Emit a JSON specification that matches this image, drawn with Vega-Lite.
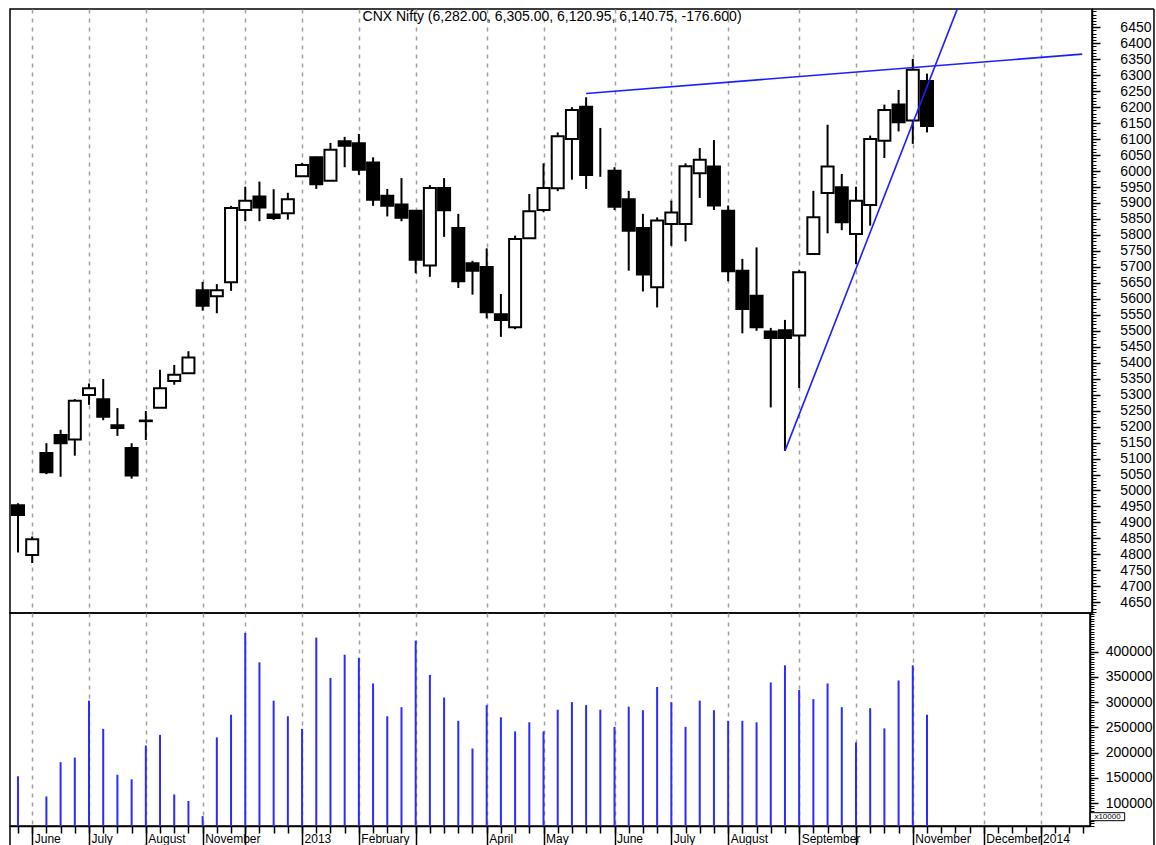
{
  "$schema": "https://vega.github.io/schema/vega-lite/v6.json",
  "padding": {"left": 8, "top": 5, "right": 0, "bottom": 0},
  "background": "white",
  "spacing": 0,
  "bounds": "flush",
  "config": {
    "view": {"stroke": "black", "strokeWidth": 1.5},
    "font": "Liberation Sans",
    "axis": {"labelFont": "Liberation Sans", "labelColor": "black", "tickColor": "black", "domainColor": "black", "title": null}
  },
  "resolve": {"scale": {"x": "independent", "y": "independent"}},
  "datasets": {
    "candles": [
      {"i":0,"open":4954,"high":4960,"low":4806,"close":4923,"volume":153000},
      {"i":1,"open":4798,"high":4856,"low":4773,"close":4847,"volume":null},
      {"i":2,"open":5117,"high":5148,"low":5051,"close":5057,"volume":113000},
      {"i":3,"open":5174,"high":5190,"low":5043,"close":5148,"volume":181000},
      {"i":4,"open":5160,"high":5286,"low":5109,"close":5281,"volume":190000},
      {"i":5,"open":5299,"high":5335,"low":5268,"close":5320,"volume":303000},
      {"i":6,"open":5286,"high":5349,"low":5220,"close":5231,"volume":247000},
      {"i":7,"open":5204,"high":5258,"low":5171,"close":5196,"volume":156000},
      {"i":8,"open":5133,"high":5148,"low":5037,"close":5047,"volume":147000},
      {"i":9,"open":5217,"high":5249,"low":5158,"close":5219,"volume":214000},
      {"i":10,"open":5259,"high":5378,"low":5259,"close":5320,"volume":235000},
      {"i":11,"open":5343,"high":5393,"low":5331,"close":5362,"volume":117000},
      {"i":12,"open":5367,"high":5436,"low":5367,"close":5416,"volume":104000},
      {"i":13,"open":5627,"high":5653,"low":5563,"close":5578,"volume":74000},
      {"i":14,"open":5608,"high":5646,"low":5555,"close":5627,"volume":230000},
      {"i":15,"open":5652,"high":5891,"low":5625,"close":5884,"volume":275000},
      {"i":16,"open":5878,"high":5951,"low":5843,"close":5907,"volume":437000},
      {"i":17,"open":5920,"high":5967,"low":5843,"close":5886,"volume":379000},
      {"i":18,"open":5864,"high":5943,"low":5847,"close":5853,"volume":303000},
      {"i":19,"open":5868,"high":5932,"low":5848,"close":5912,"volume":272000},
      {"i":20,"open":5984,"high":6025,"low":5984,"close":6019,"volume":247000},
      {"i":21,"open":6043,"high":6045,"low":5944,"close":5959,"volume":428000},
      {"i":22,"open":5970,"high":6088,"low":5970,"close":6067,"volume":348000},
      {"i":23,"open":6093,"high":6107,"low":6012,"close":6079,"volume":394000},
      {"i":24,"open":6087,"high":6116,"low":5988,"close":6004,"volume":388000},
      {"i":25,"open":6027,"high":6043,"low":5891,"close":5910,"volume":337000},
      {"i":26,"open":5923,"high":5944,"low":5858,"close":5891,"volume":272000},
      {"i":27,"open":5895,"high":5978,"low":5843,"close":5854,"volume":290000},
      {"i":28,"open":5876,"high":5876,"low":5680,"close":5722,"volume":422000},
      {"i":29,"open":5704,"high":5956,"low":5669,"close":5947,"volume":354000},
      {"i":30,"open":5947,"high":5978,"low":5794,"close":5877,"volume":309000},
      {"i":31,"open":5822,"high":5866,"low":5634,"close":5655,"volume":263000},
      {"i":32,"open":5711,"high":5719,"low":5613,"close":5688,"volume":208000},
      {"i":33,"open":5700,"high":5758,"low":5539,"close":5558,"volume":294000},
      {"i":34,"open":5552,"high":5615,"low":5481,"close":5534,"volume":270000},
      {"i":35,"open":5511,"high":5798,"low":5505,"close":5787,"volume":242000},
      {"i":36,"open":5790,"high":5928,"low":5790,"close":5874,"volume":260000},
      {"i":37,"open":5878,"high":6024,"low":5871,"close":5947,"volume":242000},
      {"i":38,"open":5946,"high":6121,"low":5937,"close":6109,"volume":285000},
      {"i":39,"open":6100,"high":6200,"low":5973,"close":6191,"volume":300000},
      {"i":40,"open":6201,"high":6231,"low":5944,"close":5988,"volume":294000},
      {"i":41,"open":null,"high":6135,"low":5982,"close":null,"volume":285000},
      {"i":42,"open":6001,"high":6012,"low":5878,"close":5888,"volume":251000},
      {"i":43,"open":5912,"high":5938,"low":5688,"close":5813,"volume":291000},
      {"i":44,"open":5822,"high":5866,"low":5623,"close":5676,"volume":284000},
      {"i":45,"open":5636,"high":5855,"low":5573,"close":5845,"volume":330000},
      {"i":46,"open":5834,"high":5907,"low":5766,"close":5870,"volume":300000},
      {"i":47,"open":5834,"high":6024,"low":5780,"close":6015,"volume":251000},
      {"i":48,"open":5993,"high":6072,"low":5916,"close":6035,"volume":303000},
      {"i":49,"open":6014,"high":6097,"low":5878,"close":5892,"volume":284000},
      {"i":50,"open":5876,"high":5892,"low":5655,"close":5686,"volume":263000},
      {"i":51,"open":5688,"high":5725,"low":5492,"close":5568,"volume":263000},
      {"i":52,"open":5610,"high":5761,"low":5500,"close":5511,"volume":260000},
      {"i":53,"open":5498,"high":5509,"low":5260,"close":5477,"volume":339000},
      {"i":54,"open":5502,"high":5534,"low":5124,"close":5477,"volume":373000},
      {"i":55,"open":5485,"high":5691,"low":5321,"close":5683,"volume":324000},
      {"i":56,"open":5740,"high":5938,"low":5740,"close":5855,"volume":306000},
      {"i":57,"open":5931,"high":6145,"low":5805,"close":6014,"volume":337000},
      {"i":58,"open":5949,"high":5991,"low":5815,"close":5840,"volume":290000},
      {"i":59,"open":5803,"high":5951,"low":5709,"close":5907,"volume":220000},
      {"i":60,"open":5894,"high":6111,"low":5829,"close":6100,"volume":288000},
      {"i":61,"open":6095,"high":6208,"low":6041,"close":6191,"volume":248000},
      {"i":62,"open":6208,"high":6254,"low":6124,"close":6153,"volume":343000},
      {"i":63,"open":6158,"high":6351,"low":6085,"close":6317,"volume":373000},
      {"i":64,"open":6282,"high":6305,"low":6120.95,"close":6140.75,"volume":275000}
    ],
    "trend": [
      {"line":"resistance","i":40.0,"price":6243},
      {"line":"resistance","i":74.93,"price":6366},
      {"line":"support","i":54.0,"price":5124},
      {"line":"support","i":66.13,"price":6507}
    ]
  },
  "vconcat": [
    {
      "width": 1082,
      "height": 604,
      "resolve": {"axis": {"x": "independent", "y": "independent"}},
      "layer": [
        {
          "data": {"name": "candles"},
          "mark": {"type": "rule", "color": "black", "strokeWidth": 2},
          "encoding": {
            "x": {"field": "i", "type": "quantitative",
              "scale": {"domain": [-0.5633, 75.618], "nice": false, "zero": false, "padding": 0},
              "axis": {"orient": "bottom", "values": [1,5,9,13,16,20,24,28,33,37,42,46,50,55,59,63,68,72],
                "grid": true, "gridColor": "#a0a0a0", "gridDash": [4,5], "gridWidth": 1.5,
                "labels": false, "ticks": false, "domain": false}},
            "y": {"field": "low", "type": "quantitative",
              "scale": {"domain": [4616.5, 6507.3], "nice": false, "zero": false, "padding": 0},
              "axis": {"orient": "right", "values": [4650,4700,4750,4800,4850,4900,4950,5000,5050,5100,5150,5200,5250,5300,5350,5400,5450,5500,5550,5600,5650,5700,5750,5800,5850,5900,5950,6000,6050,6100,6150,6200,6250,6300,6350,6400,6450],
                "format": "d", "tickSize": 8, "tickWidth": 1.5, "domainWidth": 1.5,
                "labelAlign": "right", "labelPadding": 51, "labelFontSize": 14,
                "labelOverlap": false, "labelBound": false, "grid": false}},
            "y2": {"field": "high"}
          }
        },
        {
          "data": {"name": "candles"},
          "mark": {"type": "bar", "width": 12, "stroke": "black", "strokeWidth": 2},
          "encoding": {
            "x": {"field": "i", "type": "quantitative", "axis": null},
            "y": {"field": "open", "type": "quantitative",
              "axis": {"orient": "right", "tickCount": 189, "labels": false, "domain": false, "tickSize": 4, "tickWidth": 1, "grid": false}},
            "y2": {"field": "close"},
            "fill": {"condition": {"test": "datum.close < datum.open", "value": "black"}, "value": "white"}
          }
        },
        {
          "data": {"name": "trend"},
          "mark": {"type": "line", "color": "#1e1eff", "strokeWidth": 1.6},
          "encoding": {
            "x": {"field": "i", "type": "quantitative", "axis": null},
            "y": {"field": "price", "type": "quantitative", "axis": null},
            "detail": {"field": "line"}
          }
        },
        {
          "data": {"values": [{"t": "CNX Nifty (6,282.00, 6,305.00, 6,120.95, 6,140.75, -176.600)"}]},
          "mark": {"type": "text", "fontSize": 14, "font": "Liberation Sans", "align": "center", "baseline": "middle", "color": "black"},
          "encoding": {
            "x": {"datum": 37.6, "type": "quantitative", "axis": null},
            "y": {"datum": 6482, "type": "quantitative", "axis": null},
            "text": {"field": "t"}
          }
        },
        {
          "data": {"values": [{}]},
          "mark": {"type": "rule", "color": "black", "strokeWidth": 1.5},
          "encoding": {
            "x": {"datum": 79.98, "type": "quantitative", "axis": null},
            "y": {"datum": 6507.3, "type": "quantitative", "axis": null},
            "y2": {"datum": 4616.5}
          }
        },
        {
          "data": {"values": [{}]},
          "mark": {"type": "rule", "color": "black", "strokeWidth": 1.5},
          "encoding": {
            "x": {"datum": 75.618, "type": "quantitative", "axis": null},
            "x2": {"datum": 79.98},
            "y": {"datum": 6507.3, "type": "quantitative", "axis": null}
          }
        }
      ]
    },
    {
      "width": 1080,
      "height": 213,
      "resolve": {"axis": {"x": "independent", "y": "independent"}},
      "layer": [
        {
          "data": {"name": "candles"},
          "mark": {"type": "rule", "color": "#2b2bff", "strokeWidth": 2},
          "encoding": {
            "x": {"field": "i", "type": "quantitative",
              "scale": {"domain": [-0.5633, 75.477], "nice": false, "zero": false, "padding": 0},
              "axis": {"orient": "bottom", "values": [0,1,2,3,4,5,6,7,8,9,10,11,12,13,14,15,16,17,18,19,20,21,22,23,24,25,26,27,28,29,30,31,32,33,34,35,36,37,38,39,40,41,42,43,44,45,46,47,48,49,50,51,52,53,54,55,56,57,58,59,60,61,62,63,64,65,66,67,68,69,70,71,72,73,74,75],
                "labels": false, "tickSize": 7, "tickWidth": 1.5, "domain": true, "domainWidth": 1.5, "grid": false}},
            "y": {"field": "volume", "type": "quantitative",
              "scale": {"domain": [54396, 476734], "nice": false, "zero": false, "padding": 0},
              "axis": {"orient": "right", "values": [100000,150000,200000,250000,300000,350000,400000],
                "format": "d", "tickSize": 8, "tickWidth": 1.5, "domainWidth": 1.5,
                "labelAlign": "right", "labelPadding": 54, "labelFontSize": 14,
                "labelOverlap": false, "labelBound": false, "grid": false}},
            "y2": {"datum": 54396}
          }
        },
        {
          "data": {"values": [{}]},
          "mark": {"type": "rule", "color": "black", "strokeWidth": 1.5},
          "encoding": {
            "x": {"datum": 79.98, "type": "quantitative",
              "axis": {"orient": "bottom", "values": [1,5,9,13,16,20,24,28,33,37,42,46,50,55,59,63,68,72],
                "labelExpr": "({'1':'June','5':'July','9':'August','13':'November','20':'2013','24':'February','33':'April','37':'May','42':'June','46':'July','50':'August','55':'September','63':'November','68':'December','72':'2014'})[datum.value] || ''",
                "grid": true, "gridColor": "#a0a0a0", "gridDash": [4,5], "gridWidth": 1.5,
                "domain": false, "tickSize": 22, "tickWidth": 1.5,
                "labelAlign": "left", "labelBaseline": "top", "labelPadding": -15, "labelOffset": 2,
                "labelFontSize": 12, "labelOverlap": false, "labelBound": false, "labelFlush": false}},
            "y": {"datum": 476734, "type": "quantitative",
              "axis": {"orient": "right", "tickCount": 84, "labels": false, "domain": false, "tickSize": 4, "tickWidth": 1, "grid": false}},
            "y2": {"datum": 10800}
          }
        },
        {
          "data": {"values": [{}]},
          "mark": {"type": "rule", "color": "black", "strokeWidth": 1.5},
          "encoding": {
            "x": {"datum": -0.5633, "type": "quantitative", "axis": null},
            "y": {"datum": 54396, "type": "quantitative", "axis": null},
            "y2": {"datum": 10800}
          }
        },
        {
          "data": {"values": [{}]},
          "mark": {"type": "rect", "fill": "white", "stroke": "black", "strokeWidth": 1},
          "encoding": {
            "x": {"datum": 75.5, "type": "quantitative", "axis": null},
            "x2": {"datum": 77.92},
            "y": {"datum": 80767, "type": "quantitative", "axis": null},
            "y2": {"datum": 64904}
          }
        },
        {
          "data": {"values": [{"t": "x10000"}]},
          "mark": {"type": "text", "fontSize": 8, "align": "center", "baseline": "middle", "color": "black"},
          "encoding": {
            "x": {"datum": 76.71, "type": "quantitative", "axis": null},
            "y": {"datum": 72836, "type": "quantitative", "axis": null},
            "text": {"field": "t"}
          }
        }
      ]
    }
  ]
}
